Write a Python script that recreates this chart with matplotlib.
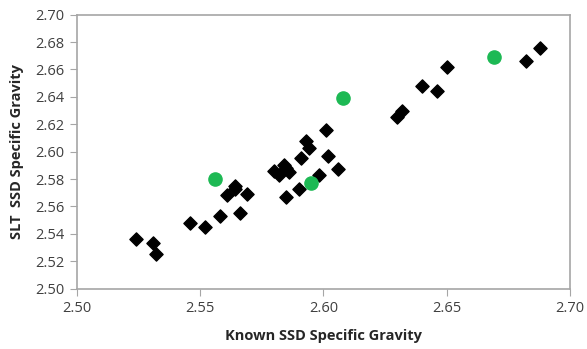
import matplotlib.pyplot as plt

# known vs SLT SSD specific gravity (black diamonds)
known = [2.524, 2.531, 2.532, 2.546, 2.552, 2.558, 2.564, 2.561, 2.564, 2.569,
         2.566, 2.580, 2.582, 2.584, 2.586, 2.585, 2.585, 2.590, 2.591, 2.593,
         2.594, 2.598, 2.601, 2.602, 2.606, 2.630, 2.632, 2.640, 2.646, 2.650,
         2.682, 2.688]
slt = [2.536, 2.533, 2.525, 2.548, 2.545, 2.553, 2.575, 2.568, 2.573, 2.569,
       2.555, 2.586, 2.583, 2.590, 2.585, 2.588, 2.567, 2.573, 2.595, 2.608,
       2.603, 2.583, 2.616, 2.597, 2.587, 2.625, 2.630, 2.648, 2.644, 2.662,
       2.666, 2.676]

# highlighted samples (green circles)
known_g = [2.556, 2.595, 2.608, 2.669]
slt_g = [2.580, 2.577, 2.639, 2.669]

plt.rcParams['font.family'] = ['Open Sans', 'DejaVu Sans']

fig = plt.figure(figsize=(5.87, 3.49), dpi=100)
ax = fig.add_axes([0.131, 0.173, 0.84, 0.785])

ax.scatter(known, slt, marker="D", s=45, color="black", zorder=3)
ax.scatter(known_g, slt_g, marker="o", s=90, color="#1db954", zorder=3)

ax.set_xlim(2.50, 2.70)
ax.set_ylim(2.50, 2.70)
ax.set_xticks([2.50, 2.55, 2.60, 2.65, 2.70])
ax.set_yticks([2.50, 2.52, 2.54, 2.56, 2.58, 2.60, 2.62, 2.64, 2.66, 2.68, 2.70])
ax.xaxis.set_major_formatter(plt.FormatStrFormatter("%.2f"))
ax.yaxis.set_major_formatter(plt.FormatStrFormatter("%.2f"))

for s in ax.spines.values():
    s.set_color("#a6a6a6")
    s.set_linewidth(1.2)
ax.tick_params(direction="out", length=5, color="#a6a6a6", labelsize=10.5,
               labelcolor="#404040", pad=4)

ax.set_xlabel("Known SSD Specific Gravity", fontsize=10.5, fontweight="bold",
              color="#262626", labelpad=9)
ax.set_ylabel("SLT  SSD Specific Gravity", fontsize=10.5, fontweight="bold",
              color="#262626", labelpad=8)

fig.savefig("out.png", dpi=100)
